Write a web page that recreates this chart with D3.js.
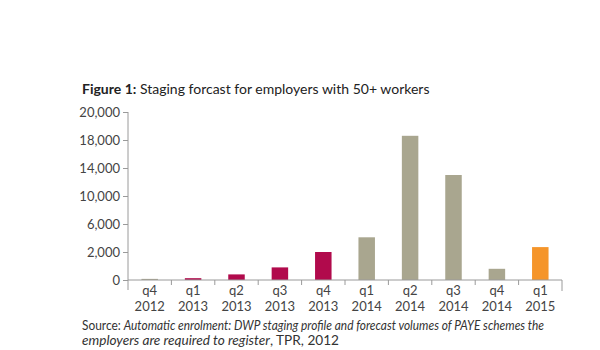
<!DOCTYPE html>
<html>
<head>
<meta charset="utf-8">
<script src="https://cdn.jsdelivr.net/npm/d3@7"></script>
<style>
  body { margin: 0; background: #fff; }
  svg { font-family: "Lato", "Open Sans", sans-serif; }
</style>
</head>
<body>
<svg width="600" height="350"></svg>
<script>
// quarters on the x axis (two line labels)
var quarters = ["q4", "q1", "q2", "q3", "q4", "q1", "q2", "q3", "q4", "q1"];
var years = ["2012", "2013", "2013", "2013", "2013", "2014", "2014", "2014", "2014", "2015"];
// number of employers staging
var volumes = [80, 130, 400, 900, 2000, 4100, 18300, 13000, 800, 2700];
// bar colour group: 0 grey, 1 red, 2 orange
var groups = [0, 1, 1, 1, 1, 0, 0, 0, 0, 2];
// tick labels as printed on the original (not evenly spaced in value)
var yTicks = [0, 2000, 6000, 10000, 14000, 18000, 20000];

var colours = ["#a9a68f", "#b10a4c", "#f5952a"];

var svg = d3.select("svg");
var plotLeft = 128, plotRight = 562, plotTop = 112, plotBottom = 280;

var data = quarters.map(function(q, i) {
  return { key: i, q: q, year: years[i], value: volumes[i], group: groups[i] };
});

var x = d3.scaleBand()
  .domain(data.map(function(d) { return d.key; }))
  .range([plotLeft, plotRight])
  .paddingInner(0.62)
  .paddingOuter(0.31);

var xb = d3.scaleBand()
  .domain(data.map(function(d) { return d.key; }))
  .range([plotLeft, plotRight]);

// the printed axis spaces its labels evenly, so map values piecewise
var step = (plotBottom - plotTop) / (yTicks.length - 1);
var y = d3.scaleLinear()
  .domain(yTicks)
  .range(yTicks.map(function(t, i) { return plotBottom - i * step; }));

// title
var title = svg.append("text")
  .attr("x", 82)
  .attr("y", 94)
  .style("font-size", "14px")
  .attr("fill", "#222");
title.append("tspan").style("font-weight", "bold").text("Figure 1:");
title.append("tspan").text(" Staging forcast for employers with 50+ workers");

// y axis
var yAxis = d3.axisLeft(y)
  .tickValues(yTicks)
  .tickSize(5)
  .tickFormat(d3.format(","));

var gy = svg.append("g")
  .attr("transform", "translate(" + plotLeft + ",0)")
  .call(yAxis);
gy.select(".domain").remove();
gy.append("line")
  .attr("y1", plotTop).attr("y2", plotBottom + 10)
  .attr("stroke", "#9a9a9a");
gy.selectAll(".tick line").attr("stroke", "#9a9a9a");
gy.selectAll(".tick text")
  .attr("x", -8)
  .attr("fill", "#444")
  .style("font-size", "13px")
  .style("font-family", "Lato, sans-serif");

// bars
svg.selectAll(".bar")
  .data(data)
  .enter().append("rect")
  .attr("class", "bar")
  .attr("x", function(d) { return x(d.key); })
  .attr("width", x.bandwidth())
  .attr("y", function(d) { return y(d.value); })
  .attr("height", function(d) { return plotBottom - y(d.value); })
  .attr("fill", function(d) { return colours[d.group]; });

// x axis
var gx = svg.append("g")
  .attr("transform", "translate(0," + plotBottom + ")");
gx.append("line")
  .attr("x1", plotLeft).attr("x2", plotRight)
  .attr("stroke", "#9a9a9a");
gx.selectAll(".sep")
  .data(data.slice(1))
  .enter().append("line")
  .attr("class", "sep")
  .attr("x1", function(d) { return xb(d.key); })
  .attr("x2", function(d) { return xb(d.key); })
  .attr("y1", 0).attr("y2", 5)
  .attr("stroke", "#9a9a9a");
gx.append("line")
  .attr("x1", plotRight).attr("x2", plotRight)
  .attr("y1", 0).attr("y2", 11)
  .attr("stroke", "#9a9a9a");

var lab = gx.selectAll(".lab")
  .data(data)
  .enter().append("text")
  .attr("class", "lab")
  .attr("text-anchor", "middle")
  .attr("fill", "#444")
  .style("font-size", "13px");
lab.append("tspan")
  .attr("x", function(d) { return xb(d.key) + xb.bandwidth() / 2; })
  .attr("y", 15)
  .text(function(d) { return d.q; });
lab.append("tspan")
  .attr("x", function(d) { return xb(d.key) + xb.bandwidth() / 2; })
  .attr("y", 31)
  .text(function(d) { return d.year; });

// source note
var src = svg.append("text")
  .attr("x", 82).attr("y", 330)
  .attr("fill", "#333")
  .style("font-size", "12.5px")
  .attr("textLength", 462)
  .attr("lengthAdjust", "spacingAndGlyphs");
src.append("tspan").text("Source: ");
src.append("tspan").style("font-style", "italic")
  .text("Automatic enrolment: DWP staging profile and forecast volumes of PAYE schemes the");

var src2 = svg.append("text")
  .attr("x", 82).attr("y", 345)
  .attr("fill", "#333")
  .style("font-size", "12.5px")
  .attr("textLength", 257)
  .attr("lengthAdjust", "spacingAndGlyphs");
src2.append("tspan").style("font-style", "italic").text("employers are required to register");
src2.append("tspan").text(", TPR, 2012");
</script>
</body>
</html>
